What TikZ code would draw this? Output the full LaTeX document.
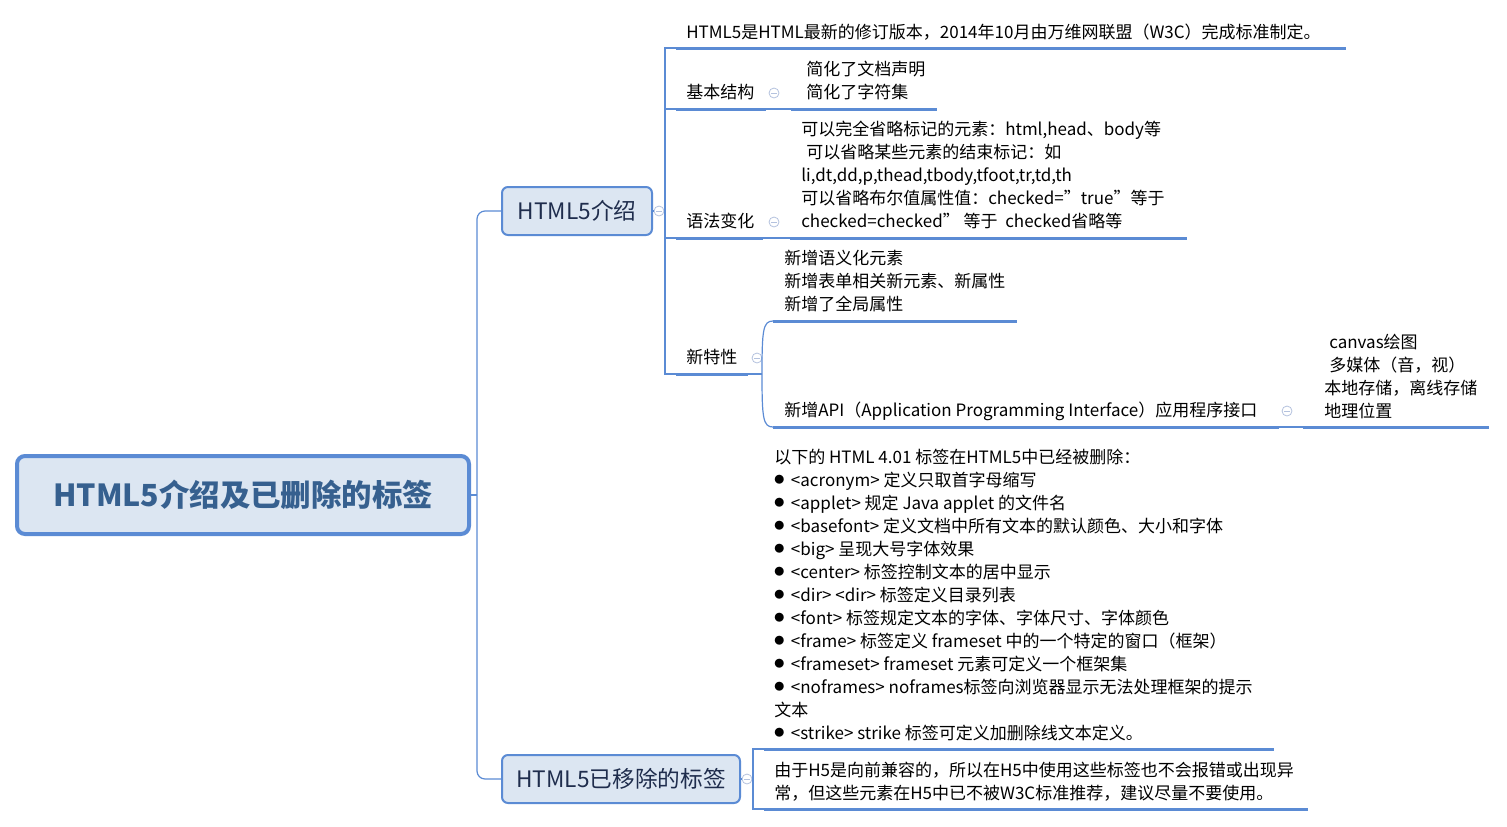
\documentclass[tikz,border=0pt]{standalone}
\usepackage{fontspec}
\setmainfont{Noto Sans CJK SC}
\definecolor{lineblue}{HTML}{5B8BD4}
\definecolor{nodefill}{HTML}{DCE6F2}
\definecolor{roottext}{HTML}{36608F}
\definecolor{subtext}{HTML}{1F2D4D}
\definecolor{markc}{HTML}{B4C2DE}
\newcommand\leaffont{\fontsize{12.75pt}{17.25pt}\selectfont}
\newcommand\subfont{\fontsize{17pt}{20pt}\selectfont}
\newcommand\rootfont{\fontsize{22.8pt}{26pt}\selectfont\bfseries}
\newcommand\bul{\raisebox{1.8pt}{\fontsize{7.5pt}{7.5pt}\selectfont ●}\hspace{5pt}}
\begin{document}
\begin{tikzpicture}[x=0.75pt,y=-0.75pt,
  leaf/.style={anchor=north west, inner sep=0pt, align=left, font=\leaffont},
  ul/.style={draw=lineblue, line width=2.25pt},
  conn/.style={draw=lineblue, line width=0.9pt},
  topic/.style={draw=lineblue, line width=1.5pt, fill=nodefill, rounded corners=4.5pt, inner sep=0pt, font=\subfont, text=subtext, minimum height=36pt},
  roottopic/.style={topic, line width=3pt, rounded corners=6pt, font=\rootfont, text=roottext, minimum width=339pt, minimum height=58.5pt},
  marker/.style={circle, draw=markc, fill=white, line width=0.6pt, minimum size=7.5pt, inner sep=0pt,
    path picture={\draw[markc, line width=0.6pt] ([xshift=-2pt]path picture bounding box.center) -- ([xshift=2pt]path picture bounding box.center);}}
]
\useasboundingbox (0,0) rectangle (1507,826);

% topics
\node[roottopic] (root) at (243,495) {HTML5介绍及已删除的标签};
\node[topic, minimum width=112.5pt] (intro) at (577,211) {HTML5介绍};
\node[topic, minimum width=178.5pt] (removed) at (621,779) {HTML5已移除的标签};

% markers
\node[marker] (m-intro) at (659,211) {};
\node[marker] (m-removed) at (747,779) {};
\node[marker] (m-basic) at (774,93) {};
\node[marker] (m-syntax) at (774,222) {};
\node[marker] (m-new) at (757,358) {};
\node[marker] (m-api) at (1287,411) {};

% leaves
\node[leaf] (desc) at (686,22) {\strut HTML5是HTML最新的修订版本，2014年10月由万维网联盟（W3C）完成标准制定。};
\node[leaf] (basic) at (686,82) {\strut 基本结构};
\node[leaf] (basic-c) at (806,59) {\strut 简化了文档声明\\简化了字符集};
\node[leaf] (syntax) at (686,211) {\strut 语法变化};
\node[leaf] (syntax-c) at (801,119) {\strut 可以完全省略标记的元素：html,head、body等\\\hspace*{3.75pt}可以省略某些元素的结束标记：如\\li,dt,dd,p,thead,tbody,tfoot,tr,td,th\\可以省略布尔值属性值：checked=”true”等于\\checked=checked” 等于\ \ checked省略等};
\node[leaf] (new) at (686,347) {\strut 新特性};
\node[leaf] (new-a) at (784,248) {\strut 新增语义化元素\\新增表单相关新元素、新属性\\新增了全局属性};
\node[leaf] (new-b) at (784,400) {\strut 新增API（Application Programming Interface）应用程序接口};
\node[leaf] (api-c) at (1324,332) {\strut\hspace*{3.75pt}canvas绘图\\\hspace*{3.75pt}多媒体（音，视）\\本地存储，离线存储\\地理位置};
\node[leaf] (list) at (774,447) {\strut 以下的 HTML 4.01 标签在HTML5中已经被删除：\\
\bul <acronym> 定义只取首字母缩写\\
\bul <applet> 规定 Java applet 的文件名\\
\bul <basefont> 定义文档中所有文本的默认颜色、大小和字体\\
\bul <big> 呈现大号字体效果\\
\bul <center> 标签控制文本的居中显示\\
\bul <dir> <dir> 标签定义目录列表\\
\bul <font> 标签规定文本的字体、字体尺寸、字体颜色\\
\bul <frame> 标签定义 frameset 中的一个特定的窗口（框架）\\
\bul <frameset> frameset 元素可定义一个框架集\\
\bul <noframes> noframes标签向浏览器显示无法处理框架的提示\\
文本\\
\bul <strike> strike 标签可定义加删除线文本定义。};
\node[leaf] (note) at (774,760) {\strut 由于H5是向前兼容的，所以在H5中使用这些标签也不会报错或出现异\\常，但这些元素在H5中已不被W3C标准推荐，建议尽量不要使用。};

% root trunk
\coordinate (trunk) at (477,495);
\draw[conn] (root.east) -- (trunk);
\draw[conn, rounded corners=6pt] (intro.west) -| (trunk) |- (removed.west);

% intro bracket
\coordinate (ib) at (665,211);
\draw[conn] (intro.east) -- (m-intro.west);
\draw[conn] (m-intro.east) -- (ib);
\draw[conn] (676,48) -| (665,374) -- (676,374);
\draw[conn] (665,109) -- (676,109);
\draw[conn] (665,238) -- (676,238);

% underlines of intro branch
\draw[ul] (676,48) -- (1346,48);
\draw[ul] (676,109) -- (766,109);
\draw[conn] (766,109) -- (791,109);
\draw[ul] (791,109) -- (937,109);
\draw[ul] (676,238) -- (763,238);
\draw[conn] (763,238) -- (790,238);
\draw[ul] (790,238) -- (1187,238);
\draw[ul] (676,374) -- (748,374);
\draw[conn] (748,374) -- (762,374);
\draw[conn] (762,374) .. controls (762,330) and (763,321) .. (773,321);
\draw[conn] (762,374) .. controls (762,418) and (763,427) .. (773,427);
\draw[ul] (773,321) -- (1017,321);
\draw[ul] (773,427) -- (1279,427);
\draw[conn] (1279,427) -- (1303,427);
\draw[ul] (1303,427) -- (1489,427);

% removed branch
\draw[conn] (removed.east) -- (m-removed.west);
\draw[conn] (m-removed.east) -- (753,779);
\draw[conn] (764,749) -| (753,809) -- (764,809);
\draw[ul] (764,749) -- (1274,749);
\draw[ul] (764,809) -- (1308,809);
\end{tikzpicture}
\end{document}
